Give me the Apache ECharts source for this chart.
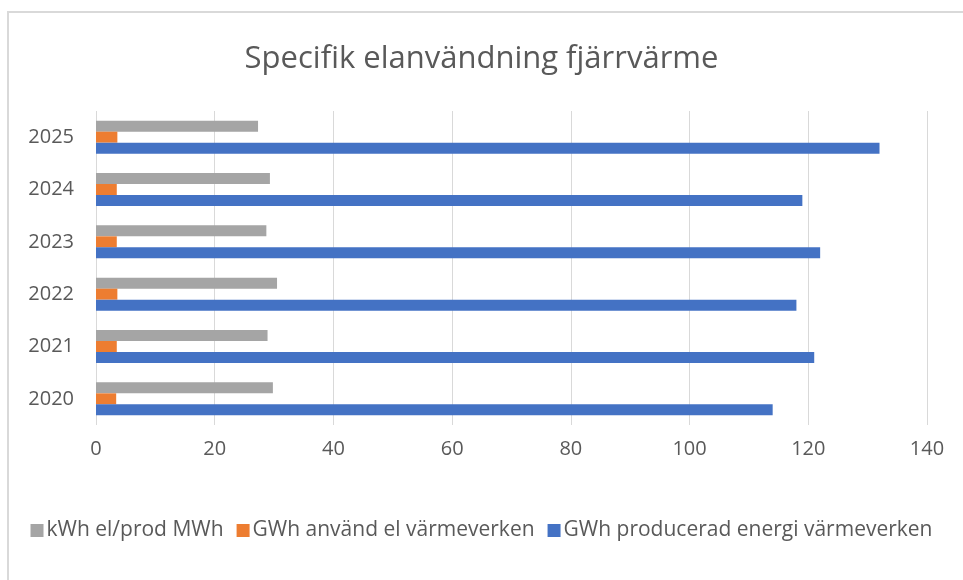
<!DOCTYPE html>
<html>
<head>
<meta charset="utf-8">
<script src="https://cdn.jsdelivr.net/npm/echarts@6/dist/echarts.min.js"></script>
<style>
html,body{margin:0;padding:0;background:#fff;}
#chart{width:963px;height:580px;}
</style>
</head>
<body>
<div id="chart"></div>
<script>
const titleText = 'Specifik elanvändning fjärrvärme';
const years = ['2020', '2021', '2022', '2023', '2024', '2025'];
const kwhPerMwh = [29.8, 28.9, 30.5, 28.7, 29.3, 27.3];
const gwhUsedEl = [3.4, 3.5, 3.6, 3.5, 3.5, 3.6];
const gwhProduced = [114, 121, 118, 122, 119, 132];
const seriesNames = ['kWh el/prod MWh', 'GWh använd el värmeverken', 'GWh producerad energi värmeverken'];
const xTicks = [0, 20, 40, 60, 80, 100, 120, 140];

const FONT = 'Open Sans';
const TXT = '#595959';
const chart = echarts.init(document.getElementById('chart'));
chart.setOption({
  animation: false,
  backgroundColor: '#ffffff',
  graphic: [{
    type: 'rect',
    shape: { x: 8, y: 12, width: 1000, height: 1000 },
    style: { fill: 'none', stroke: '#D9D9D9', lineWidth: 2 },
    silent: true
  }],
  title: {
    text: titleText,
    left: 'center',
    top: 39,
    textStyle: { fontFamily: FONT, fontSize: 31, fontWeight: 'normal', color: TXT }
  },
  legend: {
    bottom: 34,
    left: 'center',
    itemWidth: 13,
    itemHeight: 13,
    itemGap: 13,
    icon: 'rect',
    textStyle: { fontFamily: FONT, fontSize: 21, color: TXT, padding: [0, 0, 0, -2] },
    data: seriesNames
  },
  grid: { left: 96, right: 36, top: 111, bottom: 155, containLabel: false },
  xAxis: {
    type: 'value',
    min: xTicks[0],
    max: xTicks[xTicks.length - 1],
    interval: 20,
    axisLine: { show: false },
    axisTick: { show: false },
    splitLine: { show: true, lineStyle: { color: '#D9D9D9', width: 1 } },
    axisLabel: { fontFamily: FONT, fontSize: 20, color: TXT, margin: 14 }
  },
  yAxis: {
    type: 'category',
    data: years,
    axisLine: { show: false },
    axisTick: { show: false },
    axisLabel: { fontFamily: FONT, fontSize: 20, color: TXT, margin: 22 }
  },
  series: [
    { name: seriesNames[0], type: 'bar', data: kwhPerMwh, itemStyle: { color: '#A5A5A5' }, barGap: '0%', barCategoryGap: '37%' },
    { name: seriesNames[1], type: 'bar', data: gwhUsedEl, itemStyle: { color: '#ED7D31' }, barGap: '0%', barCategoryGap: '37%' },
    { name: seriesNames[2], type: 'bar', data: gwhProduced, itemStyle: { color: '#4472C4' }, barGap: '0%', barCategoryGap: '37%' }
  ]
});
</script>
</body>
</html>
